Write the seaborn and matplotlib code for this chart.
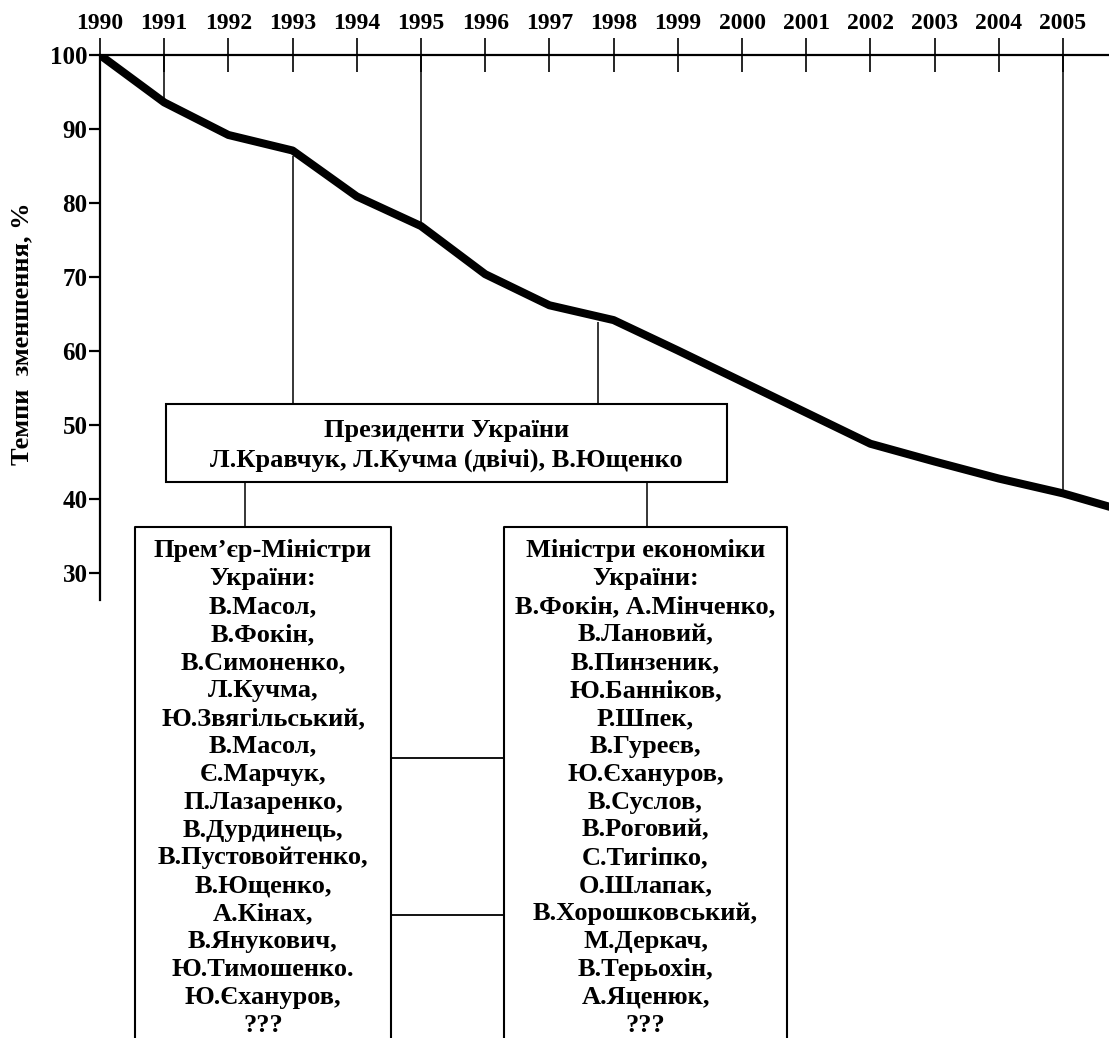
import numpy as np
import pandas as pd
import matplotlib
matplotlib.use("Agg")
import matplotlib.pyplot as plt
from matplotlib.patches import Rectangle
import seaborn as sns

# ---------------- data ----------------
years = [1990, 1991, 1992, 1993, 1994, 1995, 1996, 1997, 1998, 1999,
         2000, 2001, 2002, 2003, 2004, 2005, 2006]
values = [100.0, 93.6, 89.2, 87.1, 80.9, 76.9, 70.4, 66.2, 64.2, 60.1,
          55.9, 51.7, 47.5, 45.1, 42.8, 40.8, 38.3]
year_ticks = list(range(1990, 2006))
y_ticks = [100, 90, 80, 70, 60, 50, 40, 30]
y_label = "Темпи  зменшення, %"
top_link_years = [1991, 1995, 2005]
box_link_years = [1993, 1997.75]
presidents_lines = ["Президенти України",
                    "Л.Кравчук, Л.Кучма (двічі), В.Ющенко"]
pm_lines = ["Прем’єр-Міністри", "України:", "В.Масол,", "В.Фокін,",
            "В.Симоненко,", "Л.Кучма,", "Ю.Звягільський,", "В.Масол,",
            "Є.Марчук,", "П.Лазаренко,", "В.Дурдинець,", "В.Пустовойтенко,",
            "В.Ющенко,", "А.Кінах,", "В.Янукович,", "Ю.Тимошенко.",
            "Ю.Єхануров,", "???"]
econ_lines = ["Міністри економіки", "України:", "В.Фокін, А.Мінченко,",
              "В.Лановий,", "В.Пинзеник,", "Ю.Банніков,", "Р.Шпек,",
              "В.Гуреєв,", "Ю.Єхануров,", "В.Суслов,", "В.Роговий,",
              "С.Тигіпко,", "О.Шлапак,", "В.Хорошковський,", "М.Деркач,",
              "В.Терьохін,", "А.Яценюк,", "???"]

# ---------------- style ----------------
sns.set_style("white")
plt.rcParams['font.family'] = ['Liberation Serif', 'DejaVu Serif']
plt.rcParams['font.weight'] = 'bold'

W, H = 1109, 1038
fig = plt.figure(figsize=(W / 100, H / 100), dpi=100)
ax_left_px, ax_top_px, ax_bot_px = 100, 55, 600
ax = fig.add_axes([ax_left_px / W, 1 - ax_bot_px / H,
                   1 - ax_left_px / W, (ax_bot_px - ax_top_px) / H])

df = pd.DataFrame({"year": years, "value": values})
sns.lineplot(data=df, x="year", y="value", ax=ax, color="black",
             linewidth=5.8, solid_joinstyle="round", solid_capstyle="butt")

px_per_year = 64.2
ax.set_xlim(1990, 1990 + (W - ax_left_px) / px_per_year)
ax.set_ylim(26.4, 100)

ax.xaxis.tick_top()
ax.set_xticks(year_ticks)
ax.set_xticklabels([str(y) for y in year_ticks])
ax.set_yticks(y_ticks)
ax.set_yticklabels([str(v) for v in y_ticks])
ax.tick_params(axis="x", direction="inout", length=24, width=1.2, pad=3,
               labelsize=17, top=True, bottom=False, colors="black")
ax.tick_params(axis="y", direction="out", length=8, width=1.6, pad=1,
               labelsize=18, left=True, colors="black")
for s in ["right", "bottom"]:
    ax.spines[s].set_visible(False)
for s in ["top", "left"]:
    ax.spines[s].set_linewidth(1.6)
    ax.spines[s].set_color("black")
ax.set_xlabel("")
ax.set_ylabel(y_label, fontsize=19, fontweight="bold", color="black")
ax.yaxis.label.set_va("center")
ax.yaxis.set_label_coords((22 - ax_left_px) / (W - ax_left_px),
                          (ax_bot_px - 334) / (ax_bot_px - ax_top_px))

# links from top axis down to the curve
link_vals = [values[years.index(y)] for y in top_link_years]
ax.vlines(top_link_years, link_vals, 100, colors="black", linewidth=1.1)

# links from the curve down to the presidents box
box_top_px = 404
box_top_val = 100 - (box_top_px - ax_top_px) / ((ax_bot_px - ax_top_px) / (100 - 26.4))
curve_at = np.interp(box_link_years, years, values)
ax.vlines(box_link_years, box_top_val, curve_at - 0.8, colors="black", linewidth=1.1)

# ---------------- overlay with boxes ----------------
ov = fig.add_axes([0, 0, 1, 1], zorder=5)
ov.set_xlim(0, W)
ov.set_ylim(H, 0)
ov.axis("off")
ov.patch.set_alpha(0)

lw_box = 1.5
ov.add_patch(Rectangle((166, 404), 727 - 166, 482 - 404, fill=False,
                       edgecolor="black", linewidth=lw_box))
ov.plot([135, 135, 391, 391], [H, 527, 527, H], color="black", linewidth=lw_box)
ov.plot([504, 504, 787, 787], [H, 527, 527, H], color="black", linewidth=lw_box)
ov.plot([245, 245], [482, 527], color="black", linewidth=1.1)
ov.plot([647, 647], [482, 527], color="black", linewidth=1.1)
ov.plot([391, 504], [758, 758], color="black", linewidth=1.3)
ov.plot([391, 504], [915, 915], color="black", linewidth=1.3)

fs_box = 19
for i, t in enumerate(presidents_lines):
    ov.text(446.5, 430 + i * 30, t, ha="center", va="center",
            fontsize=fs_box, fontweight="bold", color="black")
for i, t in enumerate(pm_lines):
    ov.text(263, 551 + i * 27.9, t, ha="center", va="center",
            fontsize=fs_box, fontweight="bold", color="black")
for i, t in enumerate(econ_lines):
    ov.text(645.5, 551 + i * 27.9, t, ha="center", va="center",
            fontsize=fs_box, fontweight="bold", color="black")

fig.savefig("out.png", dpi=100, facecolor="white")
